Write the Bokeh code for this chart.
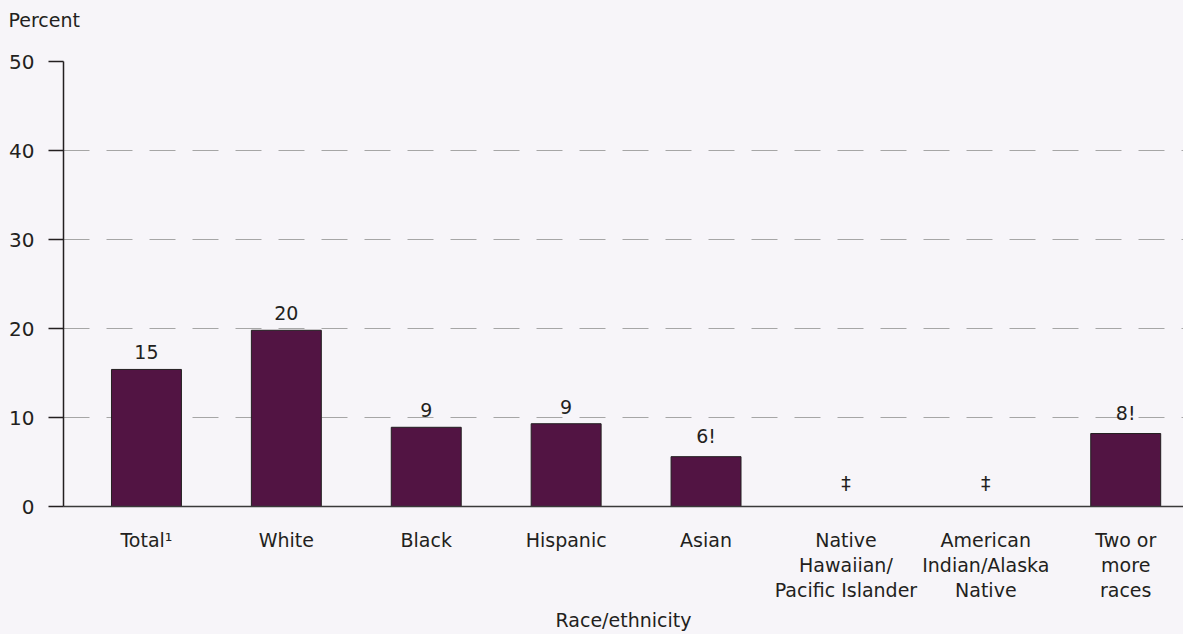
from bokeh.plotting import figure
from bokeh.layouts import column
from bokeh.models import ColumnDataSource, FixedTicker, Range1d, Title
from bokeh.core.properties import value
from bokeh.embed import file_html
from bokeh.resources import INLINE

categories = ["Total\u00b9", "White", "Black", "Hispanic", "Asian",
              "Native\nHawaiian/\nPacific Islander", "American\nIndian/Alaska\nNative",
              "Two or\nmore\nraces"]
values = [15.4, 19.8, 8.9, 9.3, 5.6, 0, 0, 8.2]
labels = ["15", "20", "9", "9", "6!", "\u2021", "\u2021", "8!"]
y_ticks = [0, 10, 20, 30, 40, 50]
y_title = "Percent"

BG = "#f7f5f9"
BAR = "#521443"
INK = "#231f20"
FONT = "DejaVu Sans"
W = 1183
HEAD_H = 40

# header strip carrying the y-axis title (drawn in the border, not clipped)
h = figure(width=W, height=HEAD_H, output_backend="svg", toolbar_location=None,
           x_range=Range1d(0, 1), y_range=Range1d(0, 1),
           x_axis_type=None, y_axis_type=None,
           min_border_left=63, min_border_right=0, min_border_top=0, min_border_bottom=0,
           background_fill_color=BG, border_fill_color=BG, outline_line_color=None)
h.xgrid.visible = False
h.ygrid.visible = False
h.add_layout(Title(text=y_title, align="left", vertical_align="top", offset=-55,
                   standoff=16, text_font=FONT, text_font_size="19px",
                   text_font_style="normal", text_color=INK), "above")

xs = list(range(len(categories)))
p = figure(width=W, height=634 - HEAD_H, output_backend="svg", toolbar_location=None,
           x_range=Range1d(-0.593, 7.413), y_range=Range1d(0, 50),
           min_border_left=63, min_border_right=0, min_border_top=61 - HEAD_H,
           min_border_bottom=125,
           background_fill_color=BG, border_fill_color=BG, outline_line_color=None)

bars = ColumnDataSource(dict(x=xs, top=values, label=labels))
p.vbar(x="x", top="top", width=0.5, source=bars, fill_color=BAR,
       line_color=INK, line_width=1)

has = [i for i, v in enumerate(values) if v > 0]
none = [i for i, v in enumerate(values) if v <= 0]
src_a = ColumnDataSource(dict(x=[xs[i] for i in has], y=[values[i] for i in has],
                              t=[labels[i] for i in has]))
src_b = ColumnDataSource(dict(x=[xs[i] for i in none], y=[values[i] for i in none],
                              t=[labels[i] for i in none]))
p.text(x="x", y="y", text="t", source=src_a, text_align="center",
       text_baseline="bottom", y_offset=-10, text_font=value(FONT),
       text_font_size="19px", text_color=INK)
p.text(x="x", y="y", text="t", source=src_b, text_align="center",
       text_baseline="bottom", y_offset=-13, text_font=value(FONT),
       text_font_size="19px", text_color=INK)

p.xaxis.ticker = FixedTicker(ticks=xs)
p.xaxis.major_label_overrides = {i: c for i, c in enumerate(categories)}
p.xaxis.major_tick_line_color = None
p.xaxis.major_tick_out = 0
p.xaxis.major_tick_in = 0
p.xaxis.minor_tick_line_color = None
p.xaxis.major_label_standoff = 22
p.xaxis.major_label_text_font = FONT
p.xaxis.major_label_text_font_size = "19px"
p.xaxis.major_label_text_line_height = 1.15
p.xaxis.major_label_text_color = INK
p.xaxis.axis_line_color = "#3a3a3a"
p.xaxis.axis_line_width = 1.5
p.xaxis.axis_label = "Race/ethnicity"
p.xaxis.axis_label_text_font = FONT
p.xaxis.axis_label_text_font_size = "19px"
p.xaxis.axis_label_text_font_style = "normal"
p.xaxis.axis_label_text_color = INK
p.xaxis.axis_label_standoff = 5

p.yaxis.ticker = FixedTicker(ticks=y_ticks)
p.yaxis.minor_tick_line_color = None
p.yaxis.major_tick_out = 15
p.yaxis.major_tick_in = 0
p.yaxis.major_tick_line_color = INK
p.yaxis.major_tick_line_width = 1.5
p.yaxis.axis_line_color = INK
p.yaxis.axis_line_width = 1.5
p.yaxis.major_label_standoff = 14
p.yaxis.major_label_text_font = FONT
p.yaxis.major_label_text_font_size = "20px"
p.yaxis.major_label_text_color = INK

p.xgrid.grid_line_color = None
p.ygrid.grid_line_color = "#a6a6a6"
p.ygrid.grid_line_dash = "26 17"
p.ygrid.grid_line_width = 1

layout = column(h, p, spacing=0, styles={"background-color": BG})
open("out.html", "w").write(file_html(layout, INLINE))
